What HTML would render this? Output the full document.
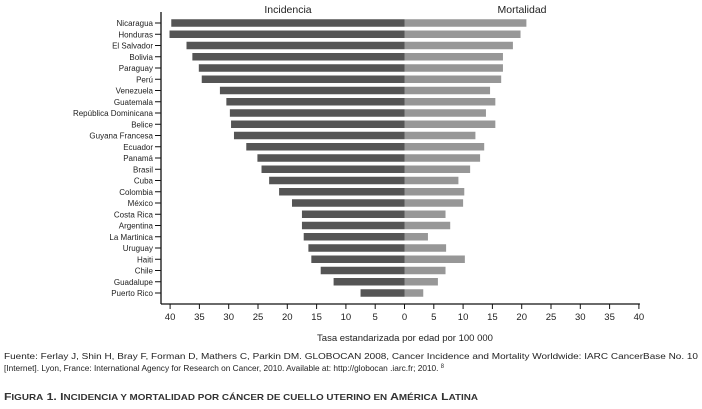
<!DOCTYPE html>
<html><head><meta charset="utf-8"><style>
body{margin:0;background:#fff;width:702px;height:409px;overflow:hidden;font-family:"Liberation Sans",sans-serif}
svg{display:block}
</style></head><body>
<svg width="702" height="409" id="c" font-family="Liberation Sans, sans-serif">
<text x="288" y="13" font-size="10.5" text-anchor="middle" fill="#222">Incidencia</text>
<text x="522" y="13" font-size="10.5" text-anchor="middle" fill="#222">Mortalidad</text>
<text x="405" y="341" font-size="9.5" text-anchor="middle" fill="#222">Tasa estandarizada por edad por 100 000</text>
<text x="4" y="359" font-size="8.6" fill="#222" textLength="694" lengthAdjust="spacingAndGlyphs">Fuente: Ferlay J, Shin H, Bray F, Forman D, Mathers C, Parkin DM. GLOBOCAN 2008, Cancer Incidence and Mortality Worldwide: IARC CancerBase No. 10</text>
<text x="4" y="371" font-size="8.6" fill="#222" textLength="440" lengthAdjust="spacingAndGlyphs">[Internet]. Lyon, France: International Agency for Research on Cancer, 2010. Available at: http://globocan .iarc.fr; 2010. <tspan font-size="6" dy="-3">8</tspan></text>
<text x="4" y="400" font-size="10.5" font-weight="bold" fill="#333" textLength="474" lengthAdjust="spacingAndGlyphs">F<tspan font-size="8.5">IGURA</tspan> 1. I<tspan font-size="8.5">NCIDENCIA Y MORTALIDAD POR CÁNCER DE CUELLO UTERINO EN</tspan> A<tspan font-size="8.5">MÉRICA</tspan> L<tspan font-size="8.5">ATINA</tspan></text>
</svg>
<script>
const countries=["Nicaragua","Honduras","El Salvador","Bolivia","Paraguay","Perú","Venezuela","Guatemala","República Dominicana","Belice","Guyana Francesa","Ecuador","Panamá","Brasil","Cuba","Colombia","México","Costa Rica","Argentina","La Martinica","Uruguay","Haiti","Chile","Guadalupe","Puerto Rico"];
const incidencia=[39.8,40.1,37.2,36.2,35.1,34.6,31.5,30.4,29.8,29.6,29.1,27.0,25.1,24.4,23.1,21.4,19.2,17.5,17.5,17.2,16.4,15.9,14.3,12.1,7.5];
const mortalidad=[20.8,19.8,18.5,16.8,16.8,16.5,14.6,15.5,13.9,15.5,12.1,13.6,12.9,11.2,9.2,10.2,10.0,7.0,7.8,4.0,7.1,10.3,7.0,5.7,3.2];
const tickLabels=["40","35","30","25","20","15","10","5","0","5","10","15","20","25","30","35","40"];
const NS="http://www.w3.org/2000/svg",svg=document.getElementById('c');
const x0=404.5,k=5.86,yTop=23,step=11.25,bh=7.5;
const xs=v=>x0+v*k, ys=i=>yTop+i*step;
function mk(t,a){const e=document.createElementNS(NS,t);for(const n in a)e.setAttribute(n,a[n]);svg.appendChild(e);return e;}
let ax=mk('line',{x1:161,y1:12,x2:161,y2:304,stroke:'#111','stroke-width':1.3});


let bx=mk('line',{x1:161,y1:304,x2:xs(40)+1,y2:304,stroke:'#111','stroke-width':1.3});


tickLabels.forEach((l,j)=>{const v=(j-8)*5,x=xs(v);
 mk('line',{x1:x,y1:304,x2:x,y2:309,stroke:'#111'});
 const t=mk('text',{x:x,y:320,'font-size':9.5,'text-anchor':'middle',fill:'#222'});t.textContent=l;
 
 
});
countries.forEach((c,i)=>{const y=ys(i);
 mk('line',{x1:155,y1:y,x2:161,y2:y,stroke:'#111'});
 const t=mk('text',{x:153,y:y+3,'font-size':8,'text-anchor':'end',fill:'#222'});t.textContent=c;
 
 
 const r1=mk('rect',{x:xs(-incidencia[i]),y:y-bh/2,width:incidencia[i]*k,height:bh,fill:'#555'});
 
 
 const r2=mk('rect',{x:x0,y:y-bh/2,width:mortalidad[i]*k,height:bh,fill:'#979797'});
 
 
});
</script>
</body></html>
